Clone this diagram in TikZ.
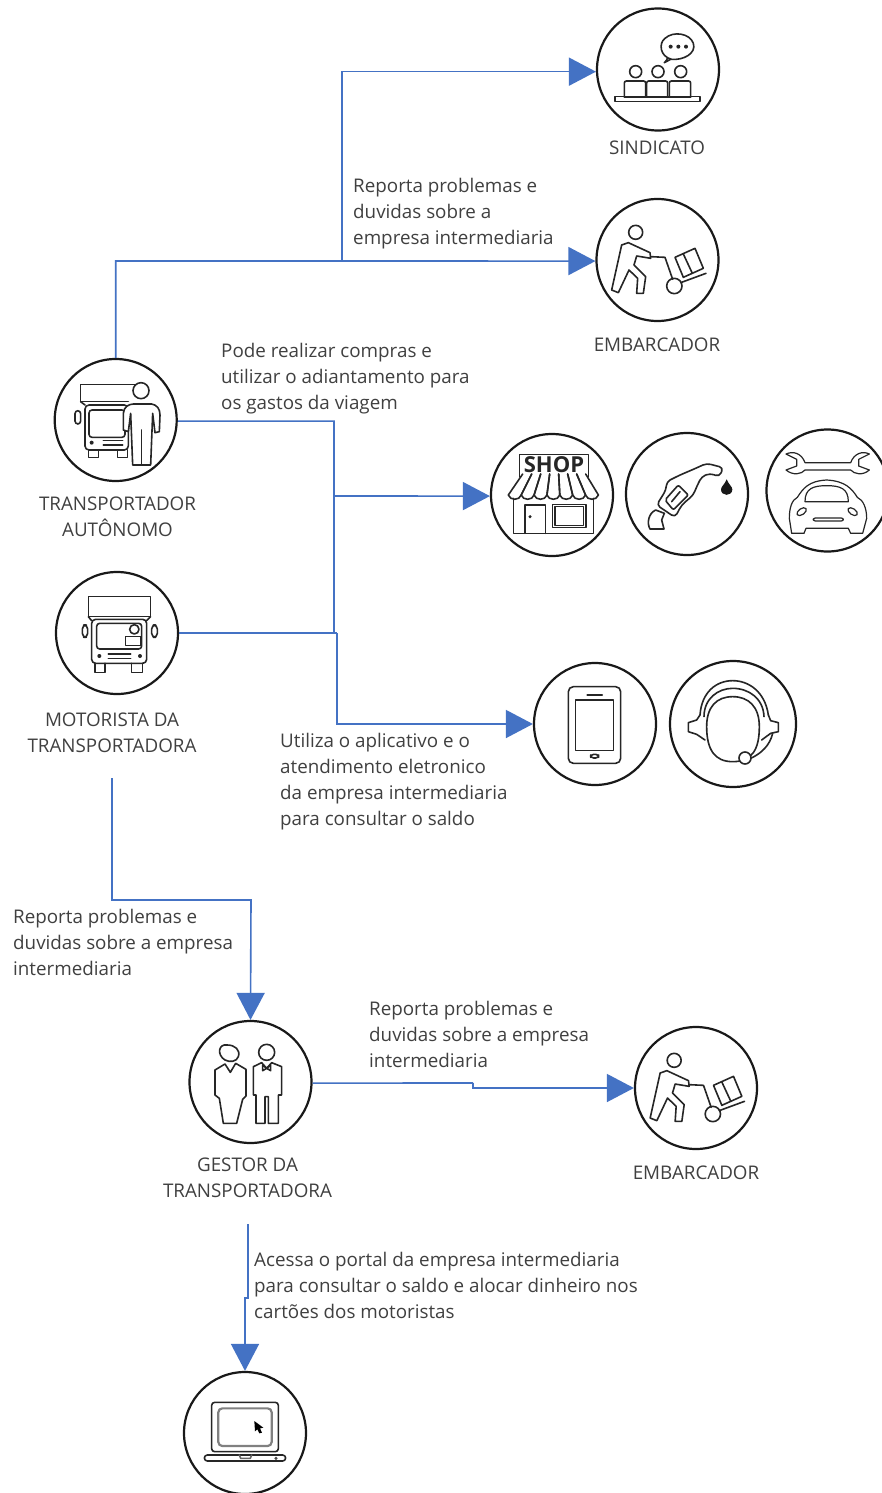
\documentclass[tikz,border=0pt]{standalone}
\usepackage{fontspec}
\setmainfont{Open Sans}
\usetikzlibrary{arrows.meta}
\definecolor{conncol}{HTML}{4472C4}
\definecolor{txtcol}{HTML}{404040}
\tikzset{
 ic/.style={circle,draw=black!90,line width=2.2pt,minimum size=122pt,inner sep=0pt,fill=white},
 conn/.style={draw=conncol,line width=1.6pt,line join=miter},
 arr/.style={conn,-{Triangle[length=27pt,width=28pt,fill=conncol]}},
 notetxt/.style={anchor=north west,inner sep=0pt,align=left,text=txtcol,font=\fontsize{18.8}{26}\selectfont},
 captxt/.style={inner sep=0pt,align=center,text=txtcol,font=\fontsize{18.8}{26}\selectfont},
 ln/.style={draw=black!85,line width=1.6pt,line join=round,line cap=round},
 za/.style={shift={(480,0)},x=0.33333pt,y=-0.33333pt},
 zb/.style={shift={(40,350)},x=0.33333pt,y=-0.33333pt},
 zc/.style={shift={(480,420)},x=0.33333pt,y=-0.33333pt},
 zd/.style={shift={(170,1010)},x=0.33333pt,y=-0.33333pt},
 ze/.style={shift={(170,1360)},x=0.33333pt,y=-0.33333pt},
}
\newcommand{\cartman}{%
 \draw[ln] (467,697) circle (21);
 \draw[ln] (445,728) -- (510,758) -- (512,775) -- (470,768) -- (462,795) -- (497,830) -- (490,880) -- (470,880) -- (473,835) -- (447,810) -- (415,878) -- (395,870) -- (425,735) -- cycle;
 \draw[ln] (512,770) -- (555,772) -- (578,838);
 \draw[ln] (583,858) circle (23);
 \draw[ln] (602,848) -- (678,820);
 \draw[ln] (585,772) -- (645,745) -- (670,805) -- (610,832) -- cycle;
 \draw[ln] (610,762) -- (637,820);
}
\begin{document}
\begin{tikzpicture}[x=1pt,y=-1pt]
\clip (0,0) rectangle (882,1493);
\fill[white] (0,0) rectangle (882,1493);

% circles
\node[ic] (sind) at (658,69.5) {};
\node[ic] (emb) at (657.5,260) {};
\node[ic] (trans) at (115.7,420) {};
\node[ic] (mot) at (117,633) {};
\node[ic] (shop) at (552,495) {};
\node[ic] (fuel) at (687,494) {};
\node[ic] (car) at (827.5,490.5) {};
\node[ic] (phone) at (595,724) {};
\node[ic,minimum size=126pt] (head) at (733,724) {};
\node[ic] (gest) at (250.5,1082) {};
\node[ic] (emb2) at (696,1088) {};
\node[ic] (lap) at (245,1433) {};

% captions
\node[captxt] (csind) at (657,148) {SINDICATO};
\node[captxt] (cemb) at (657,345) {EMBARCADOR};
\node[captxt] (ctrans) at (117.5,517) {TRANSPORTADOR\\AUTÔNOMO};
\node[captxt] (cmot) at (112,733) {MOTORISTA DA\\TRANSPORTADORA};
\node[captxt] (cgest) at (247.5,1178) {GESTOR DA\\TRANSPORTADORA};
\node[captxt] (cemb2) at (696,1173) {EMBARCADOR};

% notes
\node[notetxt] (n1) at (353,178) {Reporta problemas e\\duvidas sobre a\\empresa intermediaria};
\node[notetxt] (n2) at (221,343) {Pode realizar compras e\\utilizar o adiantamento para\\os gastos da viagem};
\node[notetxt] (n3) at (280,733) {Utiliza o aplicativo e o\\atendimento eletronico\\da empresa intermediaria\\para consultar o saldo};
\node[notetxt] (n4) at (13,909) {Reporta problemas e\\duvidas sobre a empresa\\intermediaria};
\node[notetxt] (n5) at (369,1001) {Reporta problemas e\\duvidas sobre a empresa\\intermediaria};
\node[notetxt] (n6) at (254,1252) {Acessa o portal da empresa intermediaria\\para consultar o saldo e alocar dinheiro nos\\cartões dos motoristas};

% connectors
\coordinate (ja) at (342,261);
\coordinate (jb) at (334,496);
\coordinate (jc) at (337,633);
\coordinate (jd) at (334,633);
\coordinate (mfoot) at (112,778);
\coordinate (jm) at (251,900);
\coordinate (jg) at (473,1083);
\coordinate (gfoot) at (248,1224);
\coordinate (jl) at (245,1298);
\draw[arr] (trans.north) |- (ja) -- (emb.181);
\draw[arr] (ja) |- (sind.182);
\draw[arr] (trans.359) -| (jb) -- (shop.181);
\draw[conn] (mot.east) -- (jc);
\draw[conn] (jb) -- (jd);
\draw[arr] (jc) |- (phone.west);
\draw[arr] (mfoot) |- (jm) -- (gest.north);
\draw[conn] (gest.359) -- (jg);
\draw[arr] (jg) |- (emb2.west);
\draw[arr] (gfoot) |- (jl) -- (lap.north);

% icon: sindicato
\begin{scope}[za]
 \foreach \x in {467,534,602} \draw[ln] (\x,215) circle (18);
 \foreach \a/\b in {433/497,500/563,568/632} \draw[ln,rounded corners=2pt] (\a,290) -- (\a,243) -- (\b,243) -- (\b,290);
 \draw[ln,line width=2pt] (433,290) -- (632,290);
 \draw[ln] (405,289) rectangle (660,305);
 \draw[ln] (575,178) .. controls (540,170) and (535,130) .. (555,115) .. controls (580,92) and (630,100) .. (640,130) .. controls (650,160) and (610,182) .. (572,178) -- (553,188) .. controls (560,182) and (562,178) .. (562,174);
 \foreach \x in {572,595,618} \fill[black!85] (\x,140) circle (6);
\end{scope}

% icon: embarcador
\begin{scope}[za] \cartman \end{scope}
\begin{scope}[shift={(518.5,828)},x=0.33333pt,y=-0.33333pt] \cartman \end{scope}

% icon: transportador
\begin{scope}[zb]
 \draw[ln] (122,155) -- (122,103) -- (290,103);
 \draw[ln] (122,155) -- (265,155);
 \draw[ln] (135,165) -- (122,155);
 \draw[ln,rounded corners=4pt] (135,300) -- (135,165) -- (265,165) -- (265,300) -- cycle;
 \draw[ln,rounded corners=3pt] (147,262) -- (147,180) -- (255,180) -- (255,262) -- cycle;
 \draw[ln,rounded corners=3pt] (105,182) rectangle (122,222);
 \fill[black!85] (155,278) circle (6);
 \draw[ln] (190,272) -- (248,272) (190,285) -- (248,285);
 \draw[ln] (145,300) -- (145,322) -- (175,322) -- (175,300);
 \draw[ln] (232,300) -- (232,322) -- (262,322) -- (262,300);
 \draw[ln,fill=white] (250,240) -- (250,190) .. controls (252,170) and (265,163) .. (280,162) -- (335,162) .. controls (350,165) and (360,175) .. (360,195) -- (358,245) -- (345,248) -- (338,190) -- (332,345) -- (278,345) -- (272,190) -- (265,245) -- cycle;
 \draw[ln] (304,240) -- (304,345);
 \draw[ln,fill=white] (303,122) circle (24);
\end{scope}

% icon: motorista
\begin{scope}[zb]
 \draw[ln] (145,800) -- (145,740) -- (332,740) -- (332,800) -- cycle;
 \draw[ln] (145,800) -- (155,812) (332,800) -- (320,812);
 \draw[ln,rounded corners=4pt] (155,940) -- (155,808) -- (320,808) -- (320,940) -- cycle;
 \draw[ln,rounded corners=3pt] (170,897) -- (170,820) -- (305,820) -- (305,897) -- cycle;
 \draw[ln,rounded corners=4pt] (127,825) rectangle (143,862);
 \draw[ln,rounded corners=4pt] (335,825) rectangle (352,862);
 \fill[black!85] (178,918) circle (6);
 \fill[black!85] (300,918) circle (6);
 \draw[ln] (205,912) -- (272,912) (205,925) -- (272,925);
 \draw[ln] (165,940) -- (165,968) -- (195,968) -- (195,940);
 \draw[ln] (275,940) -- (275,968) -- (308,968) -- (308,940);
 \draw[ln] (283,838) circle (14);
 \draw[ln] (257,860) rectangle (303,886);
\end{scope}

% icon: shop, fuel, car, phone, headset
\begin{scope}[zc]
 \draw[ln] (118,170) -- (118,103) -- (325,103) -- (325,170);
 \node[inner sep=0pt,font=\fontsize{22}{24}\selectfont\bfseries,text=black!85] (shoptxt) at (222,133) {SHOP};
 \foreach \i in {0,...,6} {
  \pgfmathsetmacro{\xa}{85+\i*38.6}
  \pgfmathsetmacro{\xb}{85+(\i+1)*38.6}
  \pgfmathsetmacro{\ta}{128+\i*27}
  \pgfmathsetmacro{\tb}{128+(\i+1)*27}
  \draw[ln] (\ta,162) -- (\xa,225) .. controls (\xa+5,242) and (\xb-5,242) .. (\xb,225) -- (\tb,162);
 }
 \draw[ln] (100,235) -- (100,340) -- (340,340) -- (340,235);
 \draw[ln] (135,340) -- (135,255) -- (197,255) -- (197,340);
 \fill[black!85] (150,290) circle (5);
 \draw[ln] (218,253) rectangle (318,323);
 \draw[ln] (225,260) rectangle (311,316);
 % fuel
 \draw[ln] (527,270) .. controls (505,280) and (500,310) .. (510,327) -- (552,327) -- (545,300) -- (553,280) -- cycle;
 \draw[ln,rounded corners=4pt] (530,255) -- (558,210) -- (560,185) -- (600,165) -- (640,148) -- (680,130) -- (730,143) -- (718,170) -- (690,160) -- (665,170) -- (650,200) -- (640,225) -- (605,255) -- (585,292) -- cycle;
 \draw[ln,rounded corners=2pt] (555,240) -- (595,195) -- (625,225) -- (580,270) -- cycle;
 \draw[ln] (575,245) -- (600,215);
 \fill[black!90] (740,178) .. controls (745,192) and (757,200) .. (757,208) .. controls (757,230) and (723,230) .. (723,208) .. controls (723,200) and (735,192) .. (740,178) -- cycle;
 % wrench
 \draw[ln,line width=1.2pt] (975,128) .. controls (965,100) and (940,92) .. (918,102) -- (950,118) -- (950,138) -- (918,150) .. controls (940,168) and (965,162) .. (975,150) -- (1112,150) .. controls (1122,162) and (1148,168) .. (1168,150) -- (1136,138) -- (1136,118) -- (1168,102) .. controls (1148,92) and (1122,100) .. (1112,128) -- cycle;
 % car
 \draw[ln,line width=1.2pt] (935,340) -- (928,295) .. controls (928,265) and (935,240) .. (952,232) .. controls (970,205) and (985,183) .. (1040,180) .. controls (1095,183) and (1115,205) .. (1132,232) .. controls (1150,240) and (1160,265) .. (1160,295) -- (1148,340) -- (1112,340) -- (1105,325) -- (978,325) -- (972,340) -- cycle;
 \draw[ln,line width=1.2pt] (975,245) .. controls (975,205) and (1000,197) .. (1040,197) .. controls (1080,197) and (1105,205) .. (1105,245) -- cycle;
 \draw[ln,line width=1.2pt,rotate around={35:(965,275)}] (965,275) ellipse (16 and 9);
 \draw[ln,line width=1.2pt,rotate around={-35:(1118,275)}] (1118,275) ellipse (16 and 9);
 \draw[ln,line width=1.2pt,rounded corners=2pt] (1000,294) rectangle (1090,303);
 % phone
 \draw[ln,rounded corners=5pt] (265,800) rectangle (422,1030);
 \draw[ln] (287,840) rectangle (400,992);
 \draw[ln,line width=2.2pt] (322,825) -- (366,825);
 \draw[ln,rounded corners=3pt] (332,1003) rectangle (356,1014);
 % headset
 \draw[ln] (680,920) .. controls (680,860) and (710,830) .. (758,830) .. controls (806,830) and (838,860) .. (838,920) .. controls (838,990) and (815,1025) .. (758,1025) .. controls (705,1025) and (680,990) .. (680,920) -- cycle;
 \draw[ln] (660,885) .. controls (665,815) and (710,782) .. (758,782) .. controls (806,782) and (855,815) .. (865,885);
 \draw[ln] (672,890) .. controls (672,835) and (715,805) .. (758,805) .. controls (806,805) and (850,835) .. (852,890);
 \draw[ln] (660,885) -- (650,900) -- (625,908) -- (625,935) -- (650,943) -- (675,960);
 \draw[ln] (865,885) -- (872,902) -- (895,908) -- (895,935) -- (872,940) -- (845,960);
 \draw[ln] (878,940) .. controls (870,975) and (845,1000) .. (812,1015);
 \draw[ln,fill=white] (795,1014) circle (18);
\end{scope}

% icon: gestor
\begin{scope}[zd]
 \draw[ln] (165,150) .. controls (140,135) and (145,100) .. (172,105) .. controls (195,105) and (212,120) .. (205,140) .. controls (200,155) and (180,158) .. (165,150) -- cycle;
 \draw[ln] (135,180) -- (165,162) -- (181,187) -- (197,160) -- (228,178) -- (228,258) -- (218,268) -- (200,340) -- (160,340) -- (148,265) -- (135,255) -- cycle;
 \draw[ln] (290,127) circle (24);
 \draw[ln] (250,170) -- (275,158) -- (290,175) -- (305,158) -- (335,170) -- (335,255) -- (325,255) -- (325,340) -- (295,340) -- (295,260) -- (285,260) -- (285,340) -- (258,340) -- (258,255) -- (250,255) -- cycle;
 \draw[ln] (278,165) -- (290,175) -- (302,165) -- (302,182) -- (290,175) -- (278,182) -- cycle;
\end{scope}

% icon: laptop
\begin{scope}[ze]
 \draw[ln,rounded corners=3pt] (125,275) -- (125,127) -- (325,127) -- (325,275) -- cycle;
 \draw[line width=2.2pt,draw=black!50,rounded corners=4pt] (145,145) rectangle (305,258);
 \draw[ln,rounded corners=3pt] (103,285) rectangle (347,303);
 \draw[ln,draw=black!60] (208,285) -- (212,295) -- (241,295) -- (245,285);
 \fill[black] (253,183) -- (280,203) -- (270,205) -- (276,218) -- (268,220) -- (262,208) -- (255,214) -- cycle;
 \fill[black!70] (318,295) circle (5);
\end{scope}
\end{tikzpicture}
\end{document}
